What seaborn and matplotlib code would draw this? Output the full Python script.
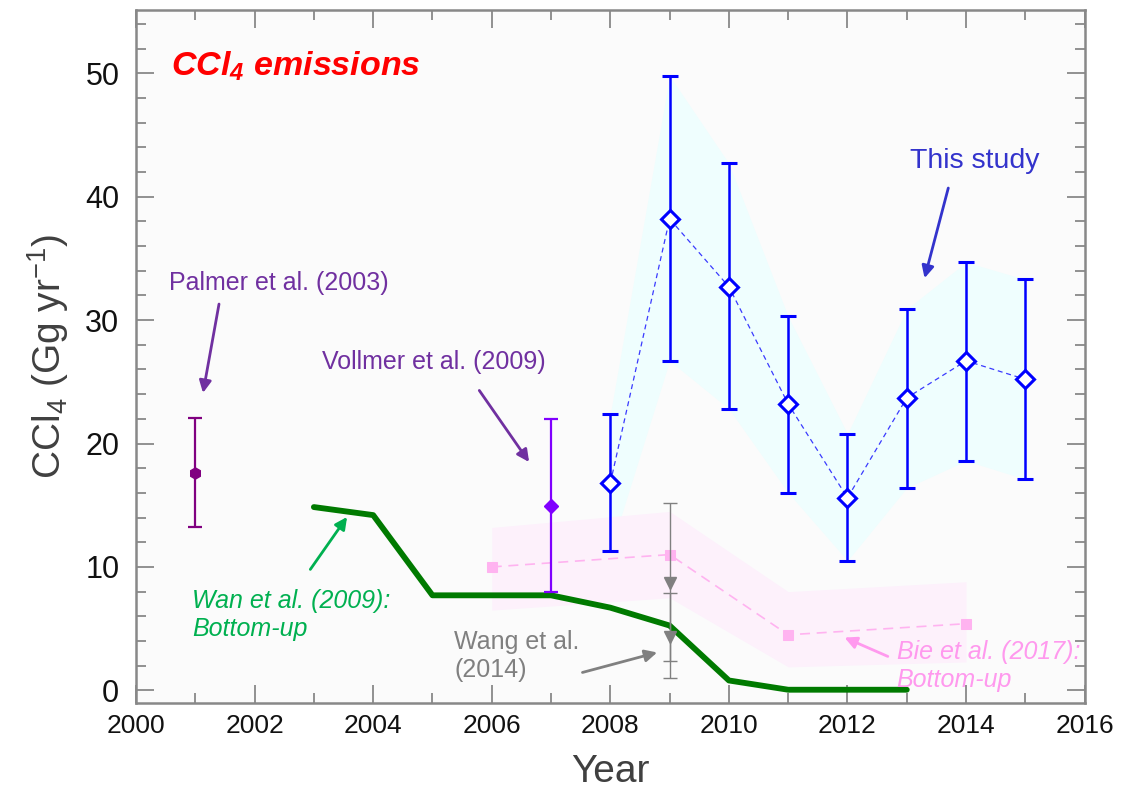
import numpy as np
import pandas as pd
import matplotlib
matplotlib.use("Agg")
import matplotlib.pyplot as plt
from matplotlib.ticker import MultipleLocator
import seaborn as sns

# ============================
# DATA
# ============================
# This study
study_years = [2008, 2009, 2010, 2011, 2012, 2013, 2014, 2015]
study_val = [16.8, 38.2, 32.7, 23.2, 15.6, 23.7, 26.7, 25.2]
study_low = [11.3, 26.7, 22.8, 16.0, 10.5, 16.4, 18.6, 17.1]
study_high = [22.4, 49.8, 42.7, 30.3, 20.8, 30.9, 34.7, 33.3]

# Palmer et al. (2003)
palmer_year = [2001]
palmer_val = [17.6]
palmer_low = [13.25]
palmer_high = [22.05]

# Vollmer et al. (2009)
vollmer_year = [2007]
vollmer_val = [14.95]
vollmer_low = [8.0]
vollmer_high = [22.0]

# Wang et al. (2014)
wang_year = [2009, 2009]
wang_val = [8.7, 4.3]
wang_low = [2.35, 0.97]
wang_high = [15.2, 7.85]

# Bie et al. (2017): bottom-up
bie_years = [2006, 2009, 2011, 2014]
bie_val = [10.0, 11.0, 4.5, 5.4]
bie_low = [6.5, 7.5, 1.9, 2.3]
bie_high = [13.2, 14.5, 8.0, 8.8]

# Wan et al. (2009): bottom-up
wan_years = [2003, 2004, 2005, 2007, 2008, 2009, 2010, 2011, 2013]
wan_val = [14.85, 14.2, 7.7, 7.7, 6.7, 5.25, 0.8, 0.05, 0.05]

# ============================
# STYLE
# ============================
sns.set_style("ticks")
plt.rcParams['font.family'] = ['Liberation Sans', 'DejaVu Sans']
plt.rcParams['mathtext.default'] = 'regular'

fig = plt.figure(figsize=(11.24, 7.94), dpi=100)
ax = fig.add_axes([0.121, 0.115, 0.844, 0.872])
ax.set_facecolor('#fbfbfb')

# ============================
# BANDS
# ============================
ax.fill_between(study_years, study_low, study_high, color='#effefe', lw=0, zorder=1)
ax.fill_between(bie_years, bie_low, bie_high, color='#fdf1fb', lw=0, zorder=1)

# ============================
# LINES
# ============================
df_wan = pd.DataFrame({'year': wan_years, 'val': wan_val})
sns.lineplot(data=df_wan, x='year', y='val', color='#007a00', lw=4.2, ax=ax, zorder=3)

df_bie = pd.DataFrame({'year': bie_years, 'val': bie_val})
sns.lineplot(data=df_bie, x='year', y='val', color='#ffb3f0', lw=1.2, ax=ax,
             dashes=False, linestyle=(0, (6, 4)), marker='s', markersize=7,
             markeredgecolor='#ffb3f0', zorder=2)

df_study = pd.DataFrame({'year': study_years, 'val': study_val})
sns.lineplot(data=df_study, x='year', y='val', color='#3a3aff', lw=0.9, ax=ax,
             linestyle=(0, (4, 3)), zorder=4)

# ============================
# ERROR BARS
# ============================
def yerr(v, lo, hi):
    v = np.array(v); return [v - np.array(lo), np.array(hi) - v]

ax.errorbar(study_years, study_val, yerr=yerr(study_val, study_low, study_high),
            fmt='D', color='#0000ff', mfc='white', mec='#0000ff', mew=2.2, ms=9,
            elinewidth=1.8, capsize=6, capthick=1.8, zorder=5)
ax.errorbar(palmer_year, palmer_val, yerr=yerr(palmer_val, palmer_low, palmer_high),
            fmt='h', color='#800080', ms=8, elinewidth=1.6, capsize=5, capthick=1.6, zorder=5)
ax.errorbar(vollmer_year, vollmer_val, yerr=yerr(vollmer_val, vollmer_low, vollmer_high),
            fmt='D', color='#8000ff', ms=7, elinewidth=1.6, capsize=5, capthick=1.6, zorder=5)
ax.errorbar(wang_year, wang_val, yerr=yerr(wang_val, wang_low, wang_high),
            fmt='v', color='#808080', ms=9, elinewidth=1.0, capsize=5, capthick=1.0, zorder=5)

# ============================
# TEXT AND ARROWS
# ============================
ax.text(2000.59, 50.6, 'CCl$_4$ emissions', color='#ff0000', fontsize=24.5,
        fontweight='bold', fontstyle='italic', ha='left', va='center')

def label(x, y, s, color, tail, head, italic=False, size=18):
    ax.text(x, y, s, color=color, fontsize=size, ha='left', va='center',
            fontstyle='italic' if italic else 'normal', linespacing=1.2, zorder=6)
    ax.annotate('', xy=head, xytext=tail,
                arrowprops=dict(arrowstyle='-|>', color=color, lw=2, mutation_scale=18,
                                shrinkA=0, shrinkB=0), zorder=6)

label(2013.05, 42.9, 'This study', '#3333cc', (2013.70, 40.7), (2013.30, 33.4), size=20.5)
label(2000.56, 33.0, 'Palmer et al. (2003)', '#7030a0', (2001.40, 31.3), (2001.13, 24.1))
label(2003.14, 26.6, 'Vollmer et al. (2009)', '#7030a0', (2005.79, 24.3), (2006.63, 18.5))
label(2000.95, 6.1, 'Wan et al. (2009):\nBottom-up', '#00b050', (2002.94, 9.8), (2003.56, 14.05), italic=True)
label(2005.37, 2.8, 'Wang et al.\n(2014)', '#808080', (2007.53, 1.45), (2008.79, 3.07))
label(2012.83, 2.0, 'Bie et al. (2017):\nBottom-up', '#ff99ee', (2012.68, 2.75), (2011.95, 4.28), italic=True)

# ============================
# AXES
# ============================
ax.set_xlim(2000, 2016)
ax.set_ylim(-1.0, 55.1)
ax.xaxis.set_major_locator(MultipleLocator(2))
ax.xaxis.set_minor_locator(MultipleLocator(1))
ax.yaxis.set_major_locator(MultipleLocator(10))
ax.yaxis.set_minor_locator(MultipleLocator(2))
ax.tick_params(which='both', direction='in', top=True, right=True, color='#888888', width=1.3)
ax.tick_params(which='major', length=13)
ax.tick_params(which='minor', length=7)
ax.tick_params(axis='x', labelsize=19, pad=8, labelcolor='#111111')
ax.tick_params(axis='y', labelsize=22, pad=12, labelcolor='#111111')
for sp in ax.spines.values():
    sp.set_color('#888888')
    sp.set_linewidth(1.8)

ax.set_xlabel('Year', fontsize=28, color='#404040', labelpad=12)
ax.set_ylabel('CCl$_4$ (Gg yr$^{-1}$)', fontsize=28, color='#404040', labelpad=10)

fig.savefig('out.png', dpi=100)
